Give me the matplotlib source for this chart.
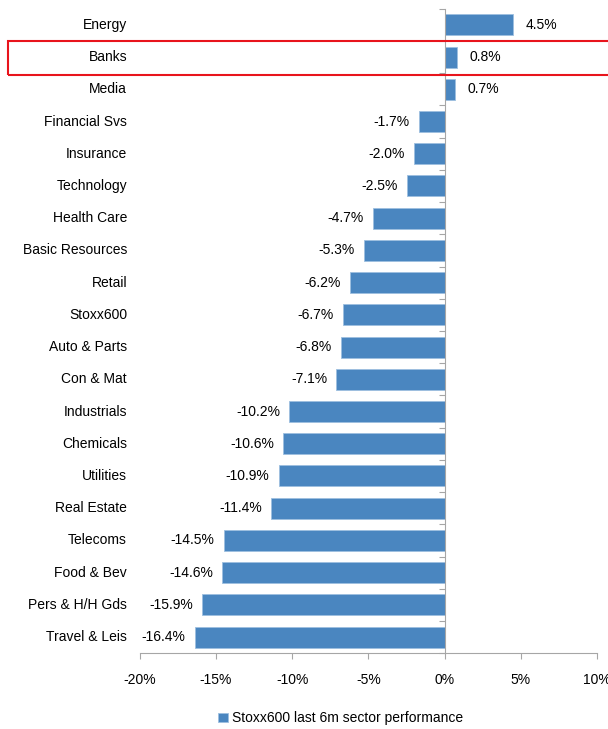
import numpy as np
import matplotlib.pyplot as plt
from matplotlib.patches import Rectangle
from matplotlib.ticker import FuncFormatter
import matplotlib.transforms as mtransforms

plt.rcParams['font.family'] = ['Liberation Sans', 'DejaVu Sans']

# donnees
sectors = ['Energy', 'Banks', 'Media', 'Financial Svs', 'Insurance', 'Technology',
           'Health Care', 'Basic Resources', 'Retail', 'Stoxx600', 'Auto & Parts',
           'Con & Mat', 'Industrials', 'Chemicals', 'Utilities', 'Real Estate',
           'Telecoms', 'Food & Bev', 'Pers & H/H Gds', 'Travel & Leis']
perf = [4.5, 0.8, 0.7, -1.7, -2.0, -2.5, -4.7, -5.3, -6.2, -6.7, -6.8, -7.1,
        -10.2, -10.6, -10.9, -11.4, -14.5, -14.6, -15.9, -16.4]
xticks = [-20, -15, -10, -5, 0, 5, 10]
legend_label = 'Stoxx600 last 6m sector performance'
highlight = 'Banks'

bar_color = '#4A86C0'
grey = '#A6A6A6'
fs = 10

fig = plt.figure(figsize=(6.08, 7.29), dpi=100)
ax = fig.add_axes([0.230, 0.104, 0.752, 0.884])

y = np.arange(len(sectors))
ax.barh(y, perf, height=0.65, color=bar_color, edgecolor='#9DBFE0',
        linewidth=0.6, label=legend_label, zorder=2)

ax.set_ylim(len(sectors) - 0.5, -0.5)
ax.set_xlim(-20, 10)

# etiquettes des valeurs
for yi, v in zip(y, perf):
    if v >= 0:
        ax.text(v + 0.8, yi, f'{v:.1f}%', va='center', ha='left', fontsize=fs)
    else:
        ax.text(v - 0.6, yi, f'{v:.1f}%', va='center', ha='right', fontsize=fs)

# noms des secteurs
trans = mtransforms.blended_transform_factory(ax.transAxes, ax.transData)
for yi, s in zip(y, sectors):
    ax.text(-0.028, yi, s, transform=trans, va='center', ha='right', fontsize=fs)

# axes
for side in ['top', 'right']:
    ax.spines[side].set_visible(False)
ax.spines['left'].set_position(('data', 0))
ax.spines['left'].set_color(grey)
ax.spines['bottom'].set_color(grey)
ax.set_yticks(np.arange(len(sectors) + 1) - 0.5)
ax.set_yticklabels([])
ax.tick_params(axis='y', direction='out', length=4, color=grey)
ax.set_xticks(xticks)
ax.xaxis.set_major_formatter(FuncFormatter(lambda v, p: f'{v:.0f}%'))
ax.tick_params(axis='x', direction='out', length=4, color=grey, labelsize=fs, pad=10)

# cadre rouge autour de Banks
bi = sectors.index(highlight)
y0 = ax.transData.transform((0, bi + 0.55))[1]
y1 = ax.transData.transform((0, bi - 0.5))[1]
fy0, fy1 = fig.transFigure.inverted().transform([(0, y0), (0, y1)])[:, 1]
fig.patches.append(Rectangle((8 / 608, fy0), 1.0, fy1 - fy0, transform=fig.transFigure,
                             fill=False, edgecolor='#E8141C', linewidth=1.5))

fig.legend(loc='lower center', bbox_to_anchor=(0.56, -0.012), frameon=False,
           fontsize=fs, handlelength=0.7, handleheight=0.7, handletextpad=0.3)

fig.savefig('out.png', dpi=100)
